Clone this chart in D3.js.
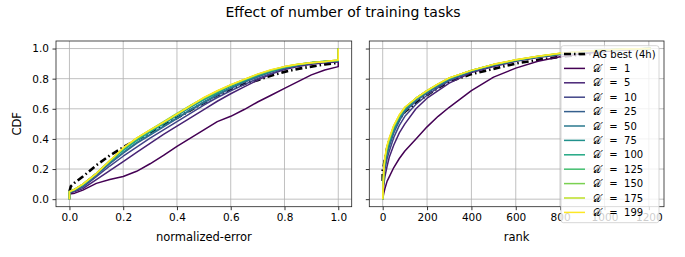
<!DOCTYPE html>
<html>
<head>
<meta charset="utf-8">
<script src="https://cdn.jsdelivr.net/npm/d3@7"></script>
<style>
  body { margin: 0; background: #fff; }
  svg { font-family: "DejaVu Sans", sans-serif; }
</style>
</head>
<body>
<svg id="chart" width="685" height="257"></svg>
<script>
// series labels (number of training tasks D')
let tasks = [1, 5, 10, 25, 50, 75, 100, 125, 150, 175, 199];

// left panel: CDF of normalized-error
let errGrid = [0, 0, 0.02, 0.05, 0.1, 0.15, 0.2, 0.25, 0.3, 0.35, 0.4, 0.45, 0.5, 0.55, 0.6, 0.65, 0.7, 0.75, 0.8, 0.85, 0.9, 0.95, 1.0, 1.0];
let errCdf = [
  [0, .035, .04, .06, .105, .13, .15, .185, .235, .29, .35, .405, .46, .515, .55, .595, .645, .69, .735, .78, .825, .858, .88, 1],
  [0, .04, .05, .07, .13, .19, .25, .31, .37, .43, .485, .54, .595, .65, .7, .745, .79, .83, .86, .88, .895, .905, .91, 1],
  [0, .04, .055, .08, .15, .22, .285, .345, .405, .46, .515, .57, .625, .675, .72, .76, .8, .835, .865, .885, .9, .91, .915, 1],
  [0, .045, .06, .09, .16, .235, .305, .37, .425, .48, .535, .59, .64, .69, .735, .775, .81, .845, .87, .89, .905, .912, .918, 1],
  [0, .045, .06, .09, .165, .24, .31, .375, .43, .485, .54, .595, .645, .695, .74, .78, .815, .848, .872, .89, .905, .913, .92, 1],
  [0, .05, .065, .095, .17, .25, .325, .39, .445, .5, .555, .61, .66, .705, .75, .785, .82, .85, .875, .892, .905, .913, .92, 1],
  [0, .05, .065, .095, .17, .25, .325, .39, .45, .505, .56, .615, .665, .71, .755, .79, .825, .852, .876, .893, .906, .914, .92, 1],
  [0, .05, .066, .1, .172, .255, .335, .4, .455, .51, .565, .62, .67, .715, .757, .792, .827, .855, .878, .894, .907, .915, .922, 1],
  [0, .05, .066, .1, .172, .255, .335, .405, .46, .515, .57, .622, .672, .717, .758, .793, .828, .856, .879, .895, .907, .915, .922, 1],
  [0, .05, .066, .1, .17, .255, .338, .405, .458, .51, .565, .62, .672, .718, .758, .795, .83, .858, .88, .895, .906, .914, .922, 1],
  [0, .05, .065, .1, .17, .255, .34, .405, .46, .51, .565, .62, .675, .72, .76, .795, .83, .86, .88, .895, .905, .913, .925, 1]
];
let agErr = [0, .005, .02, .05, .1, .15, .2, .25, .3, .35, .4, .45, .5, .55, .6, .65, .7, .75, .8, .85, .9, .95, 1];
let agErrCdf = [.05, .085, .11, .15, .225, .29, .345, .395, .44, .49, .54, .59, .64, .69, .73, .765, .79, .82, .845, .865, .88, .895, .905];

// right panel: CDF of rank
let rankGrid = [0, 0, 5, 10, 20, 30, 50, 75, 100, 150, 200, 250, 300, 400, 500, 600, 700, 800, 900, 1000, 1100, 1208];
let rankCdf = [
  [0, 0, .04, .07, .12, .15, .21, .27, .32, .4, .48, .55, .61, .72, .81, .87, .915, .945, .965, .98, .99, 1],
  [0, 0, .1, .15, .22, .28, .36, .44, .5, .6, .67, .72, .77, .84, .88, .915, .94, .96, .975, .985, .995, 1],
  [0, 0, .14, .2, .27, .32, .41, .49, .55, .63, .69, .74, .785, .845, .885, .918, .943, .962, .977, .987, .995, 1],
  [0, 0, .16, .23, .3, .35, .44, .52, .58, .65, .705, .75, .79, .85, .89, .92, .945, .964, .978, .988, .996, 1],
  [0, 0, .17, .24, .32, .37, .46, .535, .59, .66, .71, .755, .795, .85, .89, .921, .946, .965, .979, .989, .996, 1],
  [0, 0, .18, .25, .33, .385, .47, .545, .6, .665, .715, .76, .8, .853, .892, .922, .946, .966, .979, .989, .996, 1],
  [0, 0, .18, .26, .34, .39, .475, .55, .605, .67, .72, .762, .802, .854, .893, .923, .947, .966, .98, .99, .997, 1],
  [0, 0, .19, .265, .345, .4, .48, .555, .605, .668, .718, .763, .803, .855, .894, .924, .947, .967, .98, .99, .997, 1],
  [0, 0, .19, .27, .35, .4, .485, .555, .608, .67, .72, .764, .804, .855, .894, .924, .948, .967, .98, .99, .997, 1],
  [0, 0, .2, .275, .355, .405, .487, .558, .61, .67, .72, .765, .805, .855, .895, .925, .948, .968, .98, .99, .997, 1],
  [0, 0, .2, .28, .36, .41, .49, .56, .61, .67, .72, .765, .805, .855, .895, .925, .948, .968, .98, .99, .997, 1]
];
let agRank = [0, 0, 5, 10, 20, 30, 50, 75, 100, 150, 200, 250, 300, 400, 500, 600, 700, 800, 900, 1000];
let agRankCdf = [.12, .2, .22, .27, .34, .39, .46, .53, .58, .64, .69, .74, .78, .83, .865, .9, .925, .945, .96, .97];

let yTicks = [0, 0.2, 0.4, 0.6, 0.8, 1.0];
let errTicks = [0, 0.2, 0.4, 0.6, 0.8, 1.0];
let rankTicks = [0, 200, 400, 600, 800, 1000, 1200];

let svg = d3.select('#chart');
let colors = tasks.map((d, i) => d3.interpolateViridis(i / (tasks.length - 1)));

// panel boxes
let plotTop = 41, plotBottom = 206.7;
let panels = [
  {left: 56, right: 351.7, xDomain: [-0.05, 1.05], ticks: errTicks, fmt: d3.format('.1f'),
   xs: errGrid, ys: errCdf, agX: agErr, agY: agErrCdf, label: 'normalized-error', showY: true},
  {left: 369.3, right: 664, xDomain: [-60.4, 1268.4], ticks: rankTicks, fmt: d3.format('d'),
   xs: rankGrid, ys: rankCdf, agX: agRank, agY: agRankCdf, label: 'rank', showY: false}
];

let yScale = d3.scaleLinear().domain([-0.05, 1.05]).range([plotBottom, plotTop]);

panels.forEach((p, pi) => {
  let xScale = d3.scaleLinear().domain(p.xDomain).range([p.left, p.right]);
  let g = svg.append('g');

  // grid
  g.append('g').selectAll('line').data(p.ticks).enter().append('line')
    .attr('x1', (d) => xScale(d)).attr('x2', (d) => xScale(d))
    .attr('y1', plotTop).attr('y2', plotBottom)
    .attr('stroke', '#b0b0b0').attr('stroke-width', 0.8);
  g.append('g').selectAll('line').data(yTicks).enter().append('line')
    .attr('x1', p.left).attr('x2', p.right)
    .attr('y1', (d) => yScale(d)).attr('y2', (d) => yScale(d))
    .attr('stroke', '#b0b0b0').attr('stroke-width', 0.8);

  let clipId = 'clip' + pi;
  svg.append('clipPath').attr('id', clipId).append('rect')
    .attr('x', p.left).attr('y', plotTop).attr('width', p.right - p.left).attr('height', plotBottom - plotTop);

  let lines = g.append('g').attr('clip-path', `url(#${clipId})`);

  // AG best first
  let agData = p.agX.map((x, i) => [x, p.agY[i]]);
  let line = d3.line().x((d) => xScale(d[0])).y((d) => yScale(d[1]));
  lines.append('path')
    .attr('d', line(agData))
    .attr('fill', 'none').attr('stroke', '#000')
    .attr('stroke-width', 2.6).attr('stroke-dasharray', '7,3,1.5,3');

  p.ys.forEach((ys, k) => {
    let pts = p.xs.map((x, i) => [x, ys[i]]);
    lines.append('path')
      .attr('d', line(pts))
      .attr('fill', 'none').attr('stroke', colors[k])
      .attr('stroke-width', 1.5).attr('stroke-linejoin', 'round');
  });

  // axes
  let xAxis = g.append('g')
    .attr('transform', `translate(0,${plotBottom})`)
    .call(d3.axisBottom(xScale).tickValues(p.ticks).tickFormat(p.fmt).tickSizeInner(3.5).tickSizeOuter(0).tickPadding(3.5));
  let yAxis = g.append('g')
    .attr('transform', `translate(${p.left},0)`)
    .call(d3.axisLeft(yScale).tickValues(yTicks).tickFormat(p.showY ? d3.format('.1f') : '').tickSizeInner(3.5).tickSizeOuter(0).tickPadding(3.5));
  [xAxis, yAxis].forEach((a) => {
    a.select('.domain').remove();
    a.selectAll('text').attr('font-size', 10.5).attr('fill', '#000').attr('font-family', 'DejaVu Sans');
    a.selectAll('line').attr('stroke', '#000').attr('stroke-width', 0.8);
  });

  // frame
  g.append('rect')
    .attr('x', p.left).attr('y', plotTop).attr('width', p.right - p.left).attr('height', plotBottom - plotTop)
    .attr('fill', 'none').attr('stroke', '#222').attr('stroke-width', 0.8);

  g.append('text')
    .attr('x', (p.left + p.right) / 2).attr('y', 241)
    .attr('text-anchor', 'middle').attr('font-size', 11.5)
    .text(p.label);
});

// y label
svg.append('text')
  .attr('transform', `translate(21,${(plotTop + plotBottom) / 2}) rotate(-90)`)
  .attr('text-anchor', 'middle').attr('font-size', 11.5)
  .text('CDF');

// title
svg.append('text')
  .attr('x', 343).attr('y', 17)
  .attr('text-anchor', 'middle').attr('font-size', 14)
  .text('Effect of number of training tasks');

// legend
let legend = svg.append('g');
legend.append('rect')
  .attr('x', 561).attr('y', 45.7).attr('width', 98).attr('height', 177)
  .attr('rx', 2.5).attr('fill', '#fff').attr('fill-opacity', 0.8)
  .attr('stroke', '#cccccc').attr('stroke-width', 0.8);

let legendItems = [{label: 'AG best (4h)', color: '#000', ag: true}]
  .concat(tasks.map((t, i) => ({label: t, color: colors[i], ag: false})));

legendItems.forEach((d, i) => {
  let y = 54 + i * 14.4;
  legend.append('line')
    .attr('x1', 564).attr('x2', 585).attr('y1', y).attr('y2', y)
    .attr('stroke', d.color).attr('stroke-width', d.ag ? 2.6 : 1.5)
    .attr('stroke-dasharray', d.ag ? '7,3,1.5,3' : null);
  let t = legend.append('text')
    .attr('x', 592.7).attr('y', y + 3.6).attr('font-size', 10);
  if (d.ag) {
    t.text(d.label);
  } else {
    t.append('tspan').text('\u{1D49F}\u2032');
    t.append('tspan').attr('xml:space', 'preserve').text('  =  ' + d.label);
  }
});
</script>
</body>
</html>
